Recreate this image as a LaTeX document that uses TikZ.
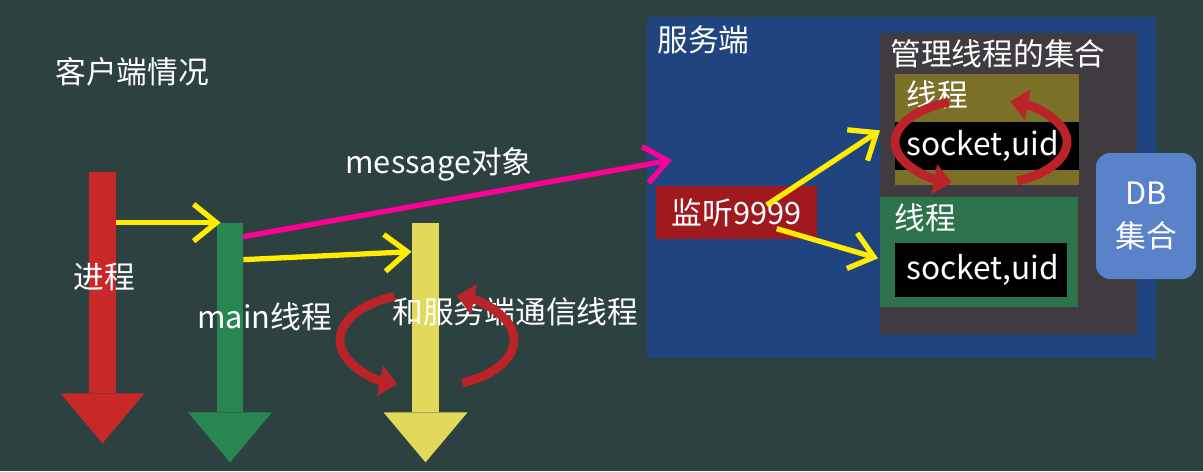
\documentclass[tikz,border=0pt]{standalone}
\usepackage{fontspec}
\setmainfont{Noto Sans CJK SC}
\usetikzlibrary{positioning,calc,arrows.meta}

\definecolor{board}{RGB}{45,65,65}
\definecolor{procred}{RGB}{200,40,40}
\definecolor{maingreen}{RGB}{40,135,80}
\definecolor{commyellow}{RGB}{226,216,90}
\definecolor{arrowyellow}{RGB}{255,236,0}
\definecolor{msgpink}{RGB}{255,0,150}
\definecolor{serverblue}{RGB}{31,68,128}
\definecolor{poolgray}{RGB}{63,59,64}
\definecolor{threadolive}{RGB}{122,112,40}
\definecolor{threadgreen}{RGB}{45,115,75}
\definecolor{listenred}{RGB}{160,25,30}
\definecolor{dbblue}{RGB}{90,130,200}
\definecolor{loopred}{RGB}{188,35,40}

\newlength\pxu
\setlength\pxu{0.02cm}

\tikzset{
  lbl/.style={text=white, font=\fontsize{17.5}{24}\selectfont, inner sep=0pt},
  shaft/.style={inner sep=0pt, draw=none},
  panel/.style={inner sep=0pt, draw=none, anchor=north west},
  sockbox/.style={panel, fill=black, text=white, font=\fontsize{18}{24}\selectfont, align=left},
  yarrow/.style={draw=arrowyellow, line width=3pt, -{Straight Barb[length=13pt,width=21pt]}},
  loopar/.style={draw=loopred, line width=5pt, -{Triangle[length=10pt,width=17pt]}}
}

\begin{document}
\begin{tikzpicture}[x=0.02cm, y=-0.02cm]
    \useasboundingbox (0,0) rectangle (1203,471);
    \fill[board] (0,0) rectangle (1203,471);

    % Client side
    \node[lbl, anchor=west] (client) at (55,72) {客户端情况};

    % Process / thread arrows
    \node[shaft, fill=procred, minimum width=27\pxu, minimum height=221\pxu] (proc) at (102.5,282.5) {};
    \node[shaft, fill=maingreen, minimum width=26\pxu, minimum height=189\pxu] (mainth) at (230,317.5) {};
    \node[shaft, fill=commyellow, minimum width=27\pxu, minimum height=189\pxu] (comm) at (425.5,317.5) {};
    \foreach \nm/\col in {proc/procred, mainth/maingreen, comm/commyellow}
      \fill[\col] ([xshift=-42\pxu]\nm.south) -- ([xshift=42\pxu]\nm.south) -- ([yshift=-50\pxu]\nm.south) -- cycle;

    \node[lbl] (proclbl) at (104,277) {进程};
    \node[lbl, anchor=west] (mainlbl) at (197,317) {main线程};
    \node[lbl, anchor=west] (commlbl) at (392,312) {和服务端通信线程};

    % Server side
    \node[panel, fill=serverblue, minimum width=509\pxu, minimum height=341\pxu] (server) at (647,17) {};
    \node[lbl, anchor=west] (serverlbl) at (657,40) {服务端};
    \node[panel, fill=poolgray, minimum width=257\pxu, minimum height=302\pxu] (pool) at (880,33) {};
    \node[lbl, anchor=west] (poollbl) at (890,54) {管理线程的集合};

    \node[panel, fill=threadolive, minimum width=184\pxu, minimum height=111\pxu] (thread1) at (895,74) {};
    \node[lbl, anchor=west] (thread1lbl) at (906,95) {线程};
    \node[sockbox, text width=162\pxu, minimum width=184\pxu, minimum height=48\pxu] (sock1) at (895,122) {socket,uid};

    \node[panel, fill=threadgreen, minimum width=198\pxu, minimum height=110\pxu] (thread2) at (880,197) {};
    \node[lbl, anchor=west] (thread2lbl) at (894,218) {线程};
    \node[sockbox, text width=150\pxu, minimum width=172\pxu, minimum height=54\pxu] (sock2) at (895,243) {socket,uid};

    \node[panel, fill=listenred, text=white, font=\fontsize{17.5}{24}\selectfont, minimum width=161\pxu, minimum height=53\pxu] (listen) at (656,186) {监听9999};

    \node[lbl, fill=dbblue, rounded corners=14\pxu, align=center, minimum width=100\pxu, minimum height=126\pxu] (db) at (1146,216) {DB\\集合};

    % Connectors
    \draw[yarrow] (proc.east |- mainth.north west) -- ([xshift=4\pxu]mainth.north west);
    \draw[yarrow] ([yshift=-37\pxu]mainth.north east) -- ([yshift=-29\pxu]comm.north west);
    \coordinate (msgend) at (672,160);
    \draw[draw=msgpink, line width=3pt, -{Straight Barb[length=13pt,width=21pt]}] ([yshift=-14\pxu]mainth.north east) -- (msgend);
    \node[lbl] (msglbl) at (439,164) {message对象};

    \draw[yarrow] ([shift={(-51,19)}]listen.north east) -- ([shift={(-15,-16)}]sock1.west);
    \draw[yarrow] ([shift={(-41,-11)}]listen.south east) -- ([shift={(-17,-12)}]sock2.west);

    % Loops
    \coordinate (commloop) at (427,340);
    \draw[loopar] (commloop) ++(-112:87 and 47) arc[start angle=-112, end angle=-250, x radius=87, y radius=47];
    \draw[loopar] (commloop) ++(66:87 and 47) arc[start angle=66, end angle=-70, x radius=87, y radius=47];

    \coordinate (sockloop) at (981,142);
    \draw[loopar] (sockloop) ++(-112:86 and 43) arc[start angle=-112, end angle=-250, x radius=86, y radius=43];
    \draw[loopar] (sockloop) ++(65:86 and 43) arc[start angle=65, end angle=-70, x radius=86, y radius=43];
\end{tikzpicture}
\end{document}
